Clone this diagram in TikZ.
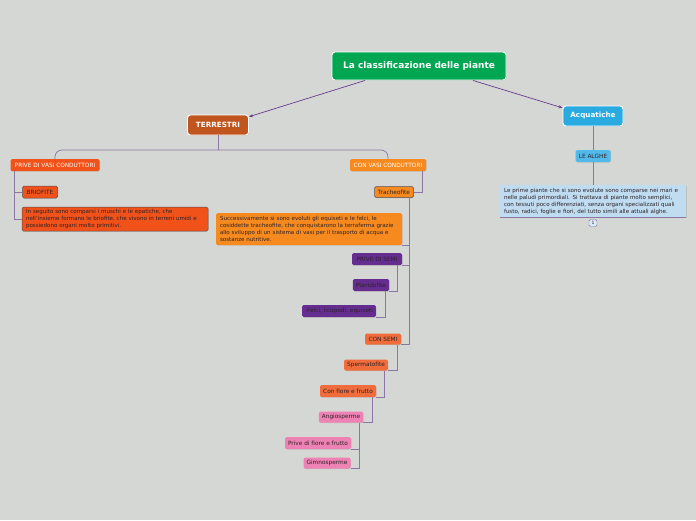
\documentclass[tikz,border=0pt]{standalone}
\usepackage{fontspec}
\setmainfont{DejaVu Sans}
\usepackage{tikz}
\usetikzlibrary{arrows.meta,shadows}

\definecolor{sfondo}{RGB}{213,215,212}
\definecolor{verde}{RGB}{0,166,81}
\definecolor{marrone}{RGB}{192,86,30}
\definecolor{azzurro}{RGB}{41,171,226}
\definecolor{azzurrino}{RGB}{82,186,234}
\definecolor{celeste}{RGB}{192,220,240}
\definecolor{rosso}{RGB}{241,82,26}
\definecolor{arancio}{RGB}{247,138,31}
\definecolor{arancioscuro}{RGB}{240,108,58}
\definecolor{viola}{RGB}{102,45,145}
\definecolor{rosa}{RGB}{239,130,180}
\definecolor{linea}{RGB}{140,118,165}
\definecolor{freccia}{RGB}{104,60,140}
\definecolor{testo}{RGB}{45,35,40}

\tikzset{
  scatola/.style={rounded corners=1.5pt, inner xsep=3pt, inner ysep=0pt, text=testo,
    font=\fontsize{5.8}{6.8}\selectfont, drop shadow={shadow xshift=0.6pt, shadow yshift=-0.6pt, opacity=0.25}},
  grande/.style={scatola, draw=white, line width=0.9pt, rounded corners=3pt, text=white, font=\bfseries\fontsize{7.2}{8}\selectfont},
  bordo/.style={draw=testo!80, line width=0.5pt},
  nota/.style={scatola, align=left, text width=178pt, inner xsep=4pt, font=\fontsize{5.55}{7}\selectfont},
  ramo/.style={draw=linea, line width=0.7pt},
  freccia/.style={draw=freccia, line width=0.7pt, -{Stealth[length=4pt,width=3pt]}}
}

\begin{document}
\begin{tikzpicture}[x=1pt,y=-1pt]
	\fill[sfondo] (0,0) rectangle (696,520);
	\useasboundingbox (0,0) rectangle (696,520);
	% radice
	\node[grande, fill=verde, minimum width=174, minimum height=28, font=\bfseries\fontsize{9}{10}\selectfont] (radice) at (419,66) {La classificazione delle piante};
	\node[grande, fill=marrone, minimum width=61, minimum height=20] (terr) at (218,125) {TERRESTRI};
	\node[grande, fill=azzurro, minimum width=60, minimum height=20] (acq) at (593,116) {Acquatiche};
	\draw[freccia] (radice.195) -- (terr.15);
	\draw[freccia] (radice.345) -- (acq.165);

	% terrestri
	\node[scatola, fill=rosso, text=white, minimum width=89, minimum height=12] (senzavasi) at (55,165) {PRIVE DI VASI CONDUTTORI};
	\node[scatola, fill=arancio, text=white, minimum width=76, minimum height=12] (convasi) at (388,165) {CON VASI CONDUTTORI};
	\coordinate (forca) at (218,150);
	\draw[ramo] (terr.south) -- (forca);
	\draw[ramo, rounded corners=7pt] (senzavasi.north) |- (forca) -| (convasi.north);

	\node[scatola, bordo, fill=rosso, minimum width=35, minimum height=12] (briofite) at (40,192) {BRIOFITE};
	\node[nota, bordo, fill=rosso, minimum height=24] (notabrio) at (115,219) {In seguito sono comparsi i muschi e le epatiche, che\\nell'insieme formano le briofite, che vivono in terreni umidi e\\possiedono organi molto primitivi.};
	\draw[ramo] ([xshift=4]senzavasi.south west) |- (briofite.west);
	\draw[ramo] ([xshift=4]senzavasi.south west) |- (notabrio.west);

	\node[scatola, bordo, fill=arancio, minimum width=39, minimum height=11] (trach) at (394,192) {Tracheofite};
	\draw[ramo] ([xshift=-4]convasi.south east) |- (trach.east);
	\node[nota, fill=arancio, minimum height=32] (notatrach) at (309,229) {Successivamente si sono evoluti gli equiseti e le felci, le\\cosiddette tracheofite, che conquistarono la terraferma grazie\\allo sviluppo di un sistema di vasi per il trasporto di acqua e\\sostanze nutritive.};
	\node[scatola, fill=viola, minimum width=50, minimum height=12] (senzasemi) at (377,259) {PRIVE DI SEMI};
	\node[scatola, fill=viola, minimum width=36, minimum height=12] (pter) at (371,285) {Pteridofite};
	\node[scatola, fill=viola, minimum width=73, minimum height=12] (felci) at (339,311) {-Felci, licopodi, equiseti};
	\node[scatola, fill=arancioscuro, minimum width=36, minimum height=11] (consemi) at (383,339) {CON SEMI};
	\node[scatola, fill=arancioscuro, minimum width=43, minimum height=11] (sperm) at (366,365) {Spermatofite};
	\node[scatola, fill=arancioscuro, minimum width=56, minimum height=12] (confiore) at (348,391) {Con fiore e frutto};
	\node[scatola, fill=rosa, minimum width=44, minimum height=11] (angio) at (341,417) {Angiosperme};
	\node[scatola, fill=rosa, minimum width=66, minimum height=12] (senzafiore) at (318,443) {Prive di fiore e frutto};
	\node[scatola, fill=rosa, minimum width=47, minimum height=11] (gimno) at (327,463) {Gimnosperme};
	\draw[ramo] ([xshift=-4]trach.south east) |- (notatrach.south east);
	\draw[ramo] ([xshift=-4]trach.south east) |- (senzasemi.south east);
	\draw[ramo] ([xshift=-4]trach.south east) |- (consemi.south east);
	\draw[ramo] ([xshift=-5]senzasemi.south east) |- (pter.south east);
	\draw[ramo] ([xshift=-4]pter.south east) |- (felci.south east);
	\draw[ramo] ([xshift=-4]consemi.south east) |- (sperm.south east);
	\draw[ramo] ([xshift=-4]sperm.south east) |- (confiore.south east);
	\draw[ramo] ([xshift=-4]confiore.south east) |- (angio.south east);
	\draw[ramo] ([xshift=-4]angio.south east) |- (senzafiore.south east);
	\draw[ramo] ([xshift=-4]angio.south east) |- (gimno.south east);

	% acquatiche
	\node[scatola, fill=azzurrino, minimum width=35, minimum height=12] (alghe) at (593,156) {LE ALGHE};
	\node[nota, fill=celeste, rounded corners=0pt, drop shadow={opacity=0}, minimum height=32] (notaalghe) at (593,201) {Le prime piante che si sono evolute sono comparse nei mari e\\nelle paludi primordiali. Si trattava di piante molto semplici,\\con tessuti poco differenziati, senza organi specializzati quali\\fusto, radici, foglie e fiori, del tutto simili alle attuali alghe.};
	\draw[ramo] (acq.south) -- (alghe.north);
	\draw[ramo] (alghe.south) -- (notaalghe.north);
	\draw[ramo] (notaalghe.south west) -- (notaalghe.south east);
	\node[draw=linea, fill=celeste!60, rounded corners=1.5pt, inner sep=0.8pt, minimum width=8, minimum height=7, font=\fontsize{4.5}{5}\selectfont, text=testo] (uno) at (593,223) {1};
\end{tikzpicture}
\end{document}
